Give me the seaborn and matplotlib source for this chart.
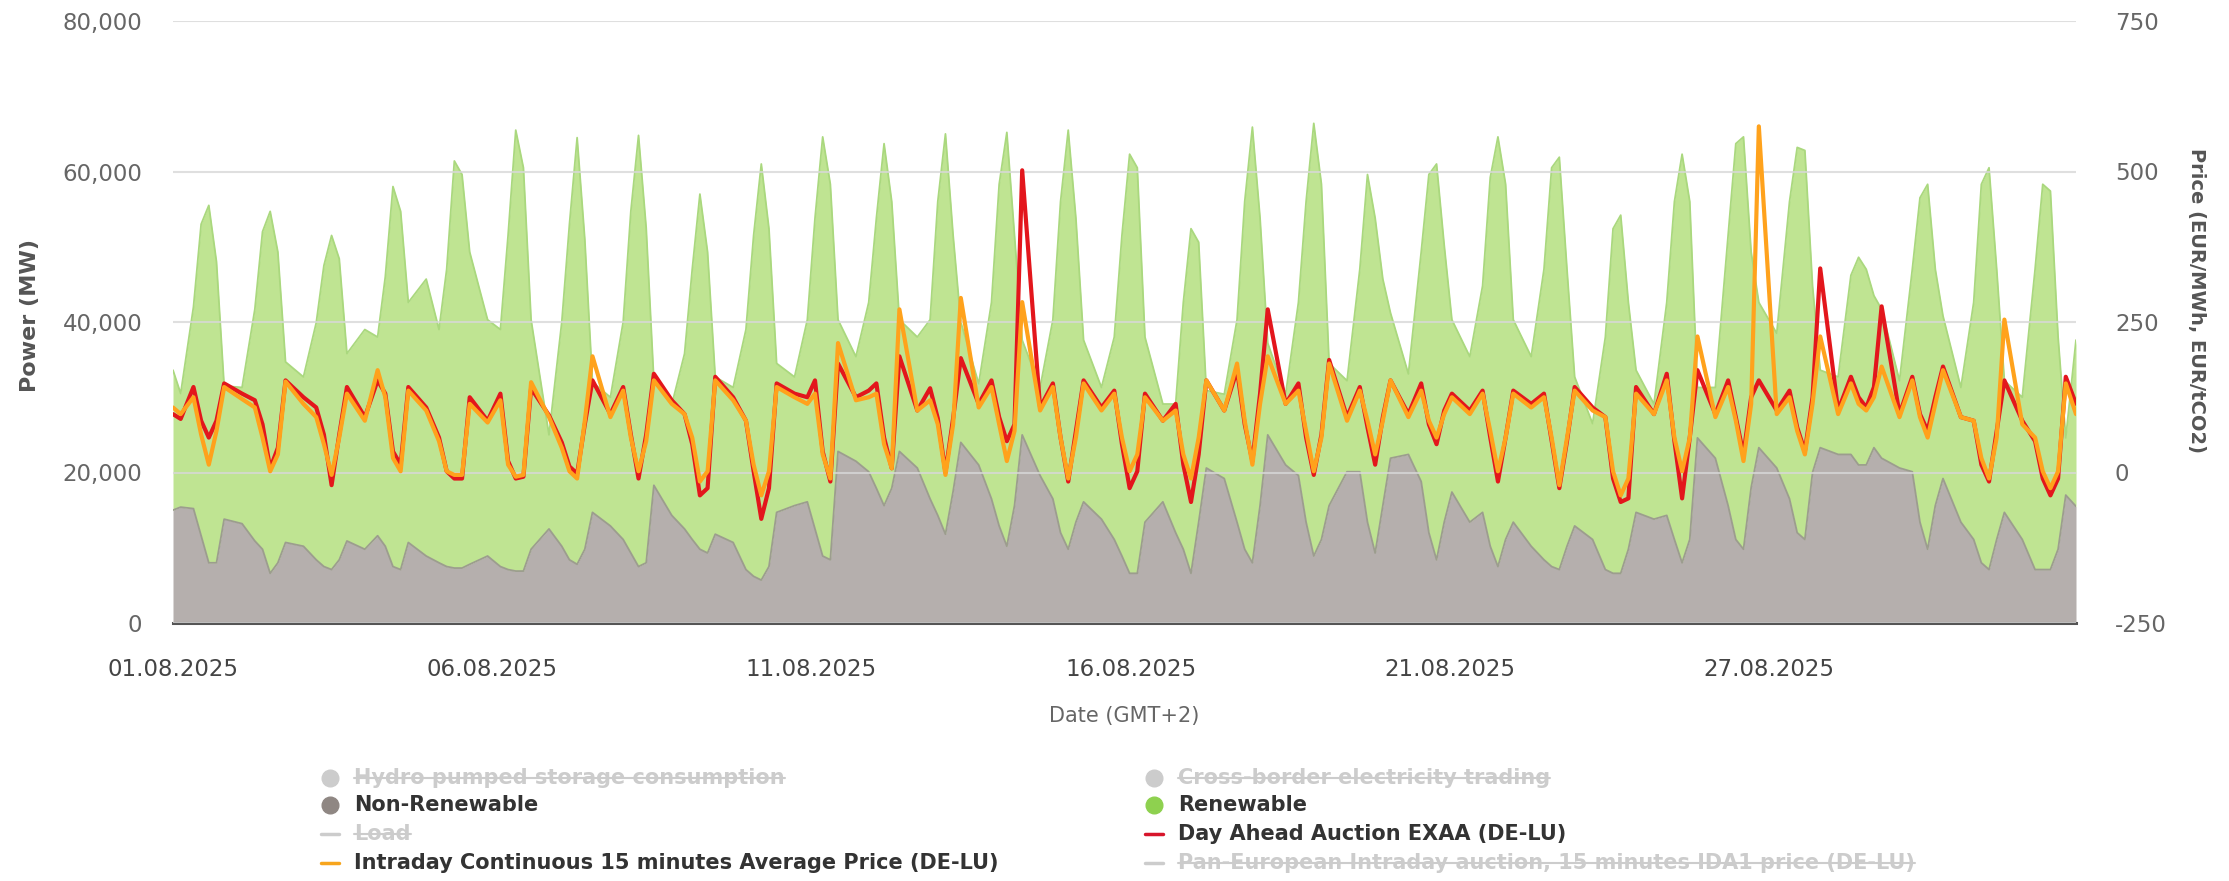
import pandas as pd
import seaborn as sns
import matplotlib.pyplot as plt
import matplotlib.dates as mdates
from matplotlib.lines import Line2D
from matplotlib.ticker import FuncFormatter

# --- Data: August 2025, values read at fixed local hours of every day ---
hours = [3, 8, 11, 14, 17, 20]

# Non-renewable generation (MW), one row per day
non_renewable = [
    [15400, 15200, 11600, 8000, 8000, 13800],
    [13200, 10900, 9800, 6600, 8000, 10700],
    [10200, 8400, 7500, 7100, 8400, 10900],
    [9800, 11600, 10200, 7500, 7100, 10700],
    [8900, 8000, 7500, 7300, 7300, 7800],
    [8900, 7500, 7100, 6900, 6900, 9800],
    [12500, 10200, 8400, 7800, 9800, 14700],
    [12900, 11100, 9300, 7500, 8000, 18300],
    [14300, 12500, 11100, 9800, 9300, 11800],
    [10700, 7100, 6200, 5700, 7500, 14700],
    [15600, 16100, 12500, 8900, 8400, 22800],
    [21500, 20100, 17900, 15600, 17900, 22800],
    [20600, 16500, 14300, 11800, 17500, 24000],
    [21000, 16500, 12900, 10200, 15600, 25000],
    [19600, 16500, 12000, 9800, 13400, 16100],
    [13800, 11100, 8900, 6600, 6600, 13400],
    [16100, 12000, 9800, 6600, 13400, 20600],
    [19200, 13400, 9800, 8000, 15600, 25000],
    [21000, 19600, 13400, 8900, 11100, 15600],
    [20100, 20100, 13400, 9300, 15600, 21900],
    [22400, 18800, 12000, 8400, 13400, 17400],
    [13400, 14700, 10200, 7500, 11100, 13400],
    [10200, 8400, 7500, 7100, 10200, 12900],
    [11100, 7100, 6600, 6600, 9800, 14700],
    [13800, 14300, 11100, 8000, 11100, 24600],
    [21900, 15600, 11100, 9800, 18000, 23300],
    [20600, 16500, 12000, 11100, 20000, 23300],
    [22400, 22400, 21000, 21000, 23300, 21900],
    [20600, 20100, 13400, 9800, 15600, 19200],
    [13400, 11100, 8000, 7100, 11100, 14700],
    [11100, 7100, 7100, 7100, 9800, 17000],
]

# Renewable generation (MW), stacked on top of non-renewable
renewable = [
    [15100, 26800, 41400, 47500, 40000, 17700],
    [18100, 30800, 42200, 48100, 41300, 24000],
    [22500, 31500, 40000, 44400, 40000, 24900],
    [29200, 26400, 35800, 50500, 47600, 31900],
    [36800, 31000, 39500, 54100, 52300, 41500],
    [31400, 31500, 44400, 58600, 53600, 30500],
    [12500, 29800, 44600, 56700, 41200, 17300],
    [17100, 28900, 45400, 57300, 44500, 13900],
    [14700, 23300, 35900, 47200, 40000, 20900],
    [20600, 31900, 45300, 55300, 44900, 19800],
    [17100, 24200, 41300, 55700, 49900, 17500],
    [13900, 22500, 35900, 48100, 38100, 17500],
    [17400, 23800, 41700, 53200, 34000, 16000],
    [10800, 26100, 45400, 55000, 35900, 12600],
    [11700, 23800, 44000, 55700, 40400, 21500],
    [17500, 26900, 42600, 55700, 53900, 24600],
    [13000, 17100, 32800, 45800, 37200, 10300],
    [11200, 26900, 46200, 57900, 38200, 12200],
    [9400, 23000, 42600, 57500, 47200, 18900],
    [12100, 26900, 46200, 44500, 30100, 19300],
    [10700, 30500, 47600, 52600, 36800, 22900],
    [22000, 30100, 49000, 57100, 47200, 26900],
    [25200, 38600, 53000, 54800, 36800, 19800],
    [15400, 30900, 45800, 47600, 32800, 18900],
    [15300, 28300, 44900, 54300, 44900, 6700],
    [9400, 35900, 52600, 54800, 31300, 19300],
    [17900, 39500, 51200, 51700, 24800, 10300],
    [10300, 23800, 27600, 26000, 20200, 19800],
    [11600, 26900, 43100, 48500, 31400, 21600],
    [17900, 31500, 50300, 53400, 35900, 17500],
    [18900, 39900, 51200, 50300, 28200, 7600],
]

# Intraday Continuous 15 minutes Average Price (DE-LU), EUR/MWh
intraday = [
    [97, 125, 63, 13, 69, 142],
    [122, 108, 58, 2, 30, 151],
    [114, 92, 47, -4, 58, 131],
    [86, 170, 125, 24, 2, 136],
    [103, 52, 2, -4, -4, 114],
    [83, 120, 13, -7, -4, 150],
    [92, 41, 2, -10, 86, 193],
    [92, 136, 58, 2, 52, 153],
    [114, 97, 58, -15, 2, 153],
    [120, 86, 13, -38, 2, 142],
    [125, 114, 131, 30, -10, 215],
    [120, 125, 131, 47, 7, 271],
    [103, 120, 80, -4, 80, 290],
    [108, 142, 80, 19, 69, 283],
    [103, 142, 58, -10, 58, 148],
    [103, 131, 58, 2, 30, 125],
    [86, 103, 30, -10, 58, 153],
    [103, 181, 86, 13, 114, 193],
    [114, 136, 69, 2, 58, 181],
    [86, 136, 86, 30, 86, 153],
    [92, 136, 86, 58, 97, 125],
    [97, 131, 69, 2, 58, 131],
    [108, 125, 58, -21, 58, 136],
    [103, 92, 2, -38, -10, 131],
    [97, 153, 58, 2, 58, 226],
    [92, 142, 86, 19, 114, 575],
    [97, 125, 69, 30, 114, 226],
    [97, 148, 114, 103, 125, 176],
    [92, 153, 92, 58, 114, 170],
    [92, 86, 24, -10, 58, 254],
    [80, 58, 2, -26, 2, 148],
]

# Day Ahead Auction EXAA (DE-LU), EUR/MWh
exaa = [
    [89, 142, 86, 58, 86, 148],
    [131, 120, 80, 7, 41, 153],
    [125, 108, 63, -21, 63, 142],
    [92, 153, 131, 35, 13, 142],
    [108, 58, 2, -10, -10, 125],
    [86, 131, 19, -10, -7, 140],
    [95, 50, 10, -2, 80, 153],
    [97, 142, 63, -10, 63, 164],
    [120, 97, 47, -38, -26, 159],
    [125, 86, 2, -77, -26, 148],
    [131, 125, 153, 35, -15, 181],
    [125, 136, 148, 58, 7, 193],
    [103, 140, 90, 0, 90, 190],
    [114, 153, 92, 52, 80, 502],
    [108, 148, 58, -15, 69, 153],
    [108, 136, 47, -26, 2, 131],
    [86, 114, 13, -49, 30, 153],
    [103, 170, 80, 19, 131, 271],
    [114, 148, 58, -4, 63, 187],
    [92, 142, 75, 13, 92, 153],
    [97, 148, 80, 47, 103, 131],
    [103, 136, 58, -15, 58, 136],
    [114, 131, 52, -26, 52, 142],
    [108, 92, -10, -49, -43, 142],
    [97, 164, 52, -43, 58, 170],
    [97, 153, 92, 30, 125, 153],
    [103, 136, 75, 35, 125, 339],
    [103, 159, 125, 108, 142, 276],
    [97, 159, 97, 69, 125, 176],
    [92, 86, 13, -15, 69, 153],
    [86, 52, -10, -38, -10, 159],
]

# values at 01.08.2025 00:00 and 01.09.2025 00:00
edge_non_renewable = [15000, 15500]
edge_renewable = [18600, 22100]
edge_intraday = [108, 97]
edge_exaa = [97, 114]

# --- Build a time indexed table ---
start = pd.Timestamp("2025-08-01")
end = pd.Timestamp("2025-09-01")
times = [start]
for d in range(len(non_renewable)):
    for h in hours:
        times.append(start + pd.Timedelta(days=d, hours=h))
times.append(end)


def flat(rows, edges):
    return [edges[0]] + [v for row in rows for v in row] + [edges[1]]


df = pd.DataFrame({
    "time": times,
    "non_renewable": flat(non_renewable, edge_non_renewable),
    "renewable": flat(renewable, edge_renewable),
    "intraday": flat(intraday, edge_intraday),
    "exaa": flat(exaa, edge_exaa),
})
df["stack_top"] = df["non_renewable"] + df["renewable"]

# --- Figure ---
sns.set_theme(style="white")
plt.rcParams["font.family"] = ["DejaVu Sans"]

W, H = 2229, 881
PL, PR, PT, PB = 173, 2076, 21, 623   # plot box in pixels
fig = plt.figure(figsize=(W / 100, H / 100), dpi=100)
ax = fig.add_axes([PL / W, 1 - PB / H, (PR - PL) / W, (PB - PT) / H])

ax.fill_between(df["time"], 0, df["non_renewable"], color="#b5afad", lw=0, zorder=1)
ax.plot(df["time"], df["non_renewable"], color="#9c9d8e", lw=1.3, zorder=2)
ax.fill_between(df["time"], df["non_renewable"], df["stack_top"],
                color="#bfe492", lw=0, zorder=1)
ax.plot(df["time"], df["stack_top"], color="#aad87e", lw=1.3, zorder=2)

ax.set_ylim(0, 80000)
ax.set_xlim(start, end)
ax.set_yticks([0, 20000, 40000, 60000, 80000])
ax.yaxis.set_major_formatter(FuncFormatter(lambda v, p: f"{v:,.0f}"))
ax.grid(axis="y", color="#d8d8d8", lw=1.5, alpha=0.8, zorder=3)
ax.set_axisbelow(False)
for s in ["top", "right", "left"]:
    ax.spines[s].set_visible(False)
ax.spines["bottom"].set_color("#555555")
ax.spines["bottom"].set_linewidth(2.2)

# x ticks evenly spaced between 01.08 and 27.08
ticks = [start + pd.Timedelta(days=5.2 * k) for k in range(6)]
ax.set_xticks(ticks)
ax.xaxis.set_major_formatter(mdates.DateFormatter("%d.%m.%Y"))
ax.tick_params(axis="x", length=0, pad=25, labelsize=16.5, labelcolor="#444444")
ax.tick_params(axis="y", length=0, pad=22, labelsize=16.5, labelcolor="#666666")
ax.set_xlabel("Date (GMT+2)", fontsize=15, color="#666666", labelpad=18)
ax.set_ylabel("Power (MW)", fontsize=16, color="#555555", fontweight="semibold")
ax.yaxis.set_label_coords(-(PL - 40) / (PR - PL), 0.51)

# --- Prices on the right axis ---
ax2 = ax.twinx()
sns.lineplot(data=df, x="time", y="exaa", ax=ax2, color="#e3161c", lw=3)
sns.lineplot(data=df, x="time", y="intraday", ax=ax2, color="#ffa21c", lw=3)
ax2.set_ylim(-250, 750)
ax2.set_yticks([-250, 0, 250, 500, 750])
ax2.yaxis.set_major_formatter(FuncFormatter(lambda v, p: f"{v:.0f}"))
ax2.tick_params(axis="y", length=0, pad=28, labelsize=16.5, labelcolor="#666666")
ax2.set_xlabel("")
ax2.set_ylabel("Price (EUR/MWh, EUR/tCO2)", fontsize=14, color="#555555",
               fontweight="semibold", rotation=270, labelpad=0)
ax2.yaxis.set_label_coords(1 + (2206 - PR) / (PR - PL), 0.535)
for s in ["top", "right", "left", "bottom"]:
    ax2.spines[s].set_visible(False)
ax2.grid(False)

# --- Legend (two columns, hidden series struck through) ---
legend_items = [
    # x marker, y, kind, colour, label, hidden
    (330, 778, "o", "#cccccc", "Hydro pumped storage consumption", True),
    (330, 805, "o", "#8f8783", "Non-Renewable", False),
    (330, 834, "-", "#cccccc", "Load", True),
    (330, 863, "-", "#f7a51d", "Intraday Continuous 15 minutes Average Price (DE-LU)", False),
    (1154, 778, "o", "#cccccc", "Cross-border electricity trading", True),
    (1154, 805, "o", "#8ed14f", "Renewable", False),
    (1154, 834, "-", "#d7152b", "Day Ahead Auction EXAA (DE-LU)", False),
    (1154, 863, "-", "#cccccc", "Pan-European Intraday auction, 15 minutes IDA1 price (DE-LU)", True),
]
struck = []
for px, py, kind, col, label, hidden in legend_items:
    if kind == "o":
        fig.add_artist(Line2D([px / W], [1 - py / H], marker="o", ms=12,
                              color=col, transform=fig.transFigure))
    else:
        fig.add_artist(Line2D([(px - 9) / W, (px + 9) / W], [1 - py / H] * 2,
                              color=col, lw=2.5, transform=fig.transFigure))
    t = fig.text((px + 24) / W, 1 - py / H, label, fontsize=15, va="center",
                 ha="left", color="#cccccc" if hidden else "#333333",
                 fontweight="semibold")
    if hidden:
        struck.append(t)

fig.canvas.draw()
renderer = fig.canvas.get_renderer()
for t in struck:
    bb = t.get_window_extent(renderer)
    yy = (bb.y0 + bb.y1) / 2 / fig.bbox.height
    fig.add_artist(Line2D([bb.x0 / fig.bbox.width, bb.x1 / fig.bbox.width], [yy, yy],
                          color="#cccccc", lw=1.5, transform=fig.transFigure))

fig.savefig("out.png", dpi=100)
